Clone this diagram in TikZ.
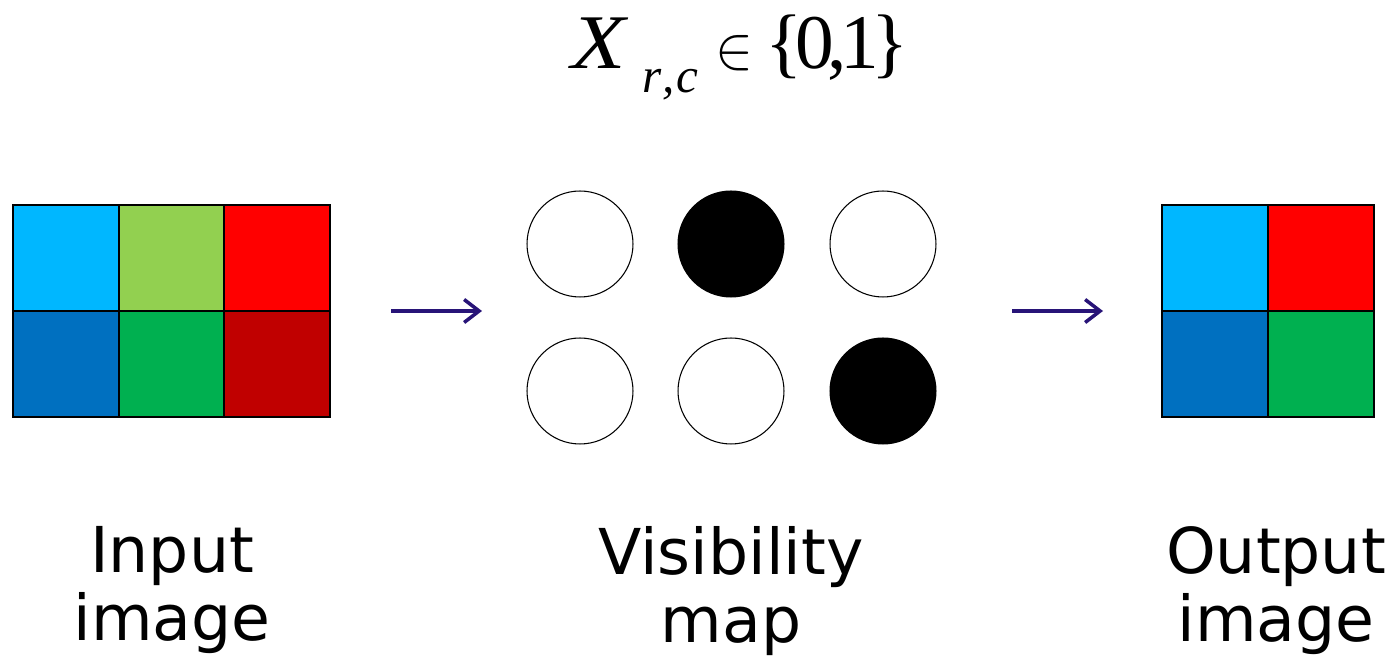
\documentclass[tikz,border=0pt]{standalone}
\usepackage{fontspec}
\usepackage{tikz}
\usetikzlibrary{positioning,arrows.meta}
\setmainfont{DejaVu Sans}
\newfontfamily\timesfont{Liberation Serif}
\definecolor{SkyBlue}{RGB}{0,183,255}
\definecolor{LeafGreen}{RGB}{146,208,80}
\definecolor{PureRed}{RGB}{255,0,0}
\definecolor{DeepBlue}{RGB}{0,112,192}
\definecolor{GrassGreen}{RGB}{0,176,80}
\definecolor{DarkRed}{RGB}{192,0,0}
\definecolor{ArrowNavy}{RGB}{40,20,120}
\tikzset{
  cell/.style={draw=black,line width=1.1pt,minimum width=2.12cm,minimum height=2.12cm,inner sep=0pt},
  bit/.style={circle,draw=black,line width=0.6pt,fill=white,minimum size=2.12cm,inner sep=0pt},
  flow/.style={draw=ArrowNavy,line width=2pt,-{Straight Barb[length=3mm,width=4.6mm,line width=2pt]}},
  caption/.style={font=\fontsize{36}{39}\selectfont,align=center,inner sep=0pt},
}
\begin{document}
\begin{tikzpicture}[x=0.02cm,y=-0.02cm]
\useasboundingbox (0,0) rectangle (1394,661);
% input image
\node[cell,fill=SkyBlue] (in11) at (66,258) {};
\node[cell,fill=LeafGreen] (in12) at (172,258) {};
\node[cell,fill=PureRed] (in13) at (277,258) {};
\node[cell,fill=DeepBlue] (in21) at (66,364) {};
\node[cell,fill=GrassGreen] (in22) at (172,364) {};
\node[cell,fill=DarkRed] (in23) at (277,364) {};
% visibility map
\node[bit] (v11) at (580,244) {};
\node[bit,fill=black] (v12) at (731,244) {};
\node[bit] (v13) at (883,244) {};
\node[bit] (v21) at (580,391) {};
\node[bit] (v22) at (731,391) {};
\node[bit,fill=black] (v23) at (883,391) {};
% output image
\node[cell,fill=SkyBlue] (out11) at (1215,258) {};
\node[cell,fill=PureRed] (out12) at (1321,258) {};
\node[cell,fill=DeepBlue] (out21) at (1215,364) {};
\node[cell,fill=GrassGreen] (out22) at (1321,364) {};
% arrows
\coordinate (a1s) at (391,311);
\coordinate (a1e) at (482,311);
\coordinate (a2s) at (1012,311);
\coordinate (a2e) at (1103,311);
\draw[flow] (a1s) -- (a1e);
\draw[flow] (a2s) -- (a2e);
% formula
\node[inner sep=0pt,anchor=base west] (formula) at (571,69)
  {\fontsize{44}{48}\selectfont\timesfont\scalebox{1.15}[1]{\textit{X}}\kern0.18em\raisebox{-0.3em}{\fontsize{28}{32}\selectfont\textit{r\kern0.02em,\kern0.04em c}}\kern0.22em\scalebox{1.3}[1.4]{$\in$}\kern0.16em\{\kern-0.1em0\kern-0.08em,\kern-0.08em1\kern-0.1em\}};
% captions
\node[caption,anchor=north] (inlab) at (172,526) {Input\\image};
\node[caption,anchor=north] (vislab) at (731,526) {Visibility\\map};
\node[caption,anchor=north] (outlab) at (1276,526) {Output\\image};
\end{tikzpicture}
\end{document}
